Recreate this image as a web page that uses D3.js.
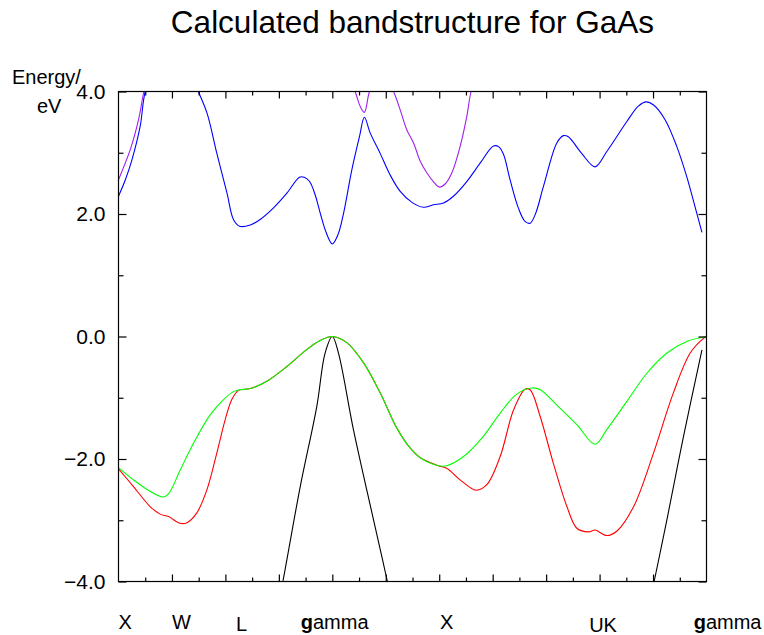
<!DOCTYPE html>
<meta charset="utf-8">
<title>Calculated bandstructure for GaAs</title>
<style>
  body { margin: 0; background: white; }
  svg { font-family: "Liberation Sans", Arial, sans-serif; }
  .band { fill: none; stroke-width: 1.1px; }
</style>
<body>
<div id="chart"></div>
<script src="https://d3js.org/d3.v7.min.js"></script>
<script>
// bands, k in tick units (0..22), energy in eV
const band2 = [[0,-6.9],[2,-6.8],[4,-6.6],[5.2,-5.9],[5.7,-5.0],[6.15,-4.0],[6.8,-2.45],[7.42,-1.14],
  [7.73,-0.27],[8.0,0],[8.23,-0.27],[8.79,-1.52],[9.54,-2.99],[10.06,-4.0],[10.6,-5.1],[12,-6.7],
  [14,-6.6],[17.8,-6.3],[19.0,-5.8],[19.55,-5.0],[20.04,-4.0],[20.52,-2.99],[21.14,-1.63],[21.83,-0.22]];

const band3 = [[0,-2.16],[0.56,-2.45],[1.19,-2.78],[1.56,-2.9],[1.87,-2.94],[2.31,-3.05],[2.56,-3.04],
  [2.93,-2.88],[3.31,-2.5],[3.68,-1.9],[3.99,-1.36],[4.24,-1.03],[4.49,-0.88],[4.93,-0.85],[5.55,-0.73],
  [6.3,-0.49],[7.05,-0.21],[7.55,-0.065],[8.0,0],[8.54,-0.1],[9.17,-0.43],[9.79,-0.92],[10.42,-1.5],
  [10.91,-1.82],[11.29,-1.98],[11.97,-2.11],[12.28,-2.15],[12.78,-2.34],[13.38,-2.51],[13.78,-2.42],
  [14.28,-1.96],[14.78,-1.2],[15.21,-0.86],[15.4,-0.87],[15.78,-1.31],[16.27,-2.07],[16.78,-2.78],
  [17.15,-3.13],[17.59,-3.19],[17.83,-3.16],[18.27,-3.25],[18.64,-3.18],[19.27,-2.78],[20.02,-1.9],
  [20.76,-0.92],[21.39,-0.27],[21.89,-0.03],[22,0]];

const band4 = [[0,-2.14],[0.56,-2.34],[1.19,-2.53],[1.68,-2.62],[1.87,-2.57],[2.31,-2.18],[2.81,-1.74],
  [3.43,-1.28],[3.93,-1.03],[4.3,-0.9],[4.55,-0.87],[4.93,-0.85],[5.55,-0.73],[6.3,-0.49],[7.05,-0.21],
  [7.55,-0.065],[8.0,0],[8.54,-0.1],[9.17,-0.43],[9.79,-0.92],[10.42,-1.5],[10.91,-1.82],[11.29,-1.98],
  [11.97,-2.11],[12.28,-2.11],[12.91,-1.96],[13.65,-1.63],[14.28,-1.25],[14.9,-0.94],[15.47,-0.84],
  [15.78,-0.87],[16.4,-1.12],[17.15,-1.44],[17.83,-1.76],[18.27,-1.52],[19.02,-1.06],[19.77,-0.6],
  [20.52,-0.27],[21.26,-0.08],[22,0]];

const band5 = [[0,2.29],[0.25,2.55],[0.5,2.88],[0.81,3.43],[1.0,4.0],[1.5,4.6],[2.0,4.85],[2.5,4.6],
  [2.99,4.0],[3.31,3.65],[3.68,2.99],[4.06,2.34],[4.3,1.91],[4.53,1.8],[4.93,1.82],[5.3,1.91],[5.8,2.1],
  [6.3,2.34],[6.77,2.6],[6.95,2.6],[7.15,2.53],[7.36,2.31],[7.55,2.01],[7.76,1.71],[8.0,1.51],[8.21,1.66],
  [8.42,2.01],[8.73,2.72],[9.02,3.27],[9.2,3.58],[9.42,3.32],[9.79,2.99],[10.16,2.64],[10.54,2.37],
  [10.98,2.19],[11.41,2.11],[11.78,2.15],[12.16,2.18],[12.53,2.29],[13.03,2.53],[13.53,2.83],[14.03,3.11],
  [14.22,3.1],[14.4,2.98],[14.65,2.56],[14.96,2.1],[15.21,1.88],[15.4,1.85],[15.59,1.99],[15.9,2.45],
  [16.4,3.16],[16.65,3.28],[16.83,3.26],[17.33,2.99],[17.83,2.77],[18.27,3.02],[19.02,3.51],[19.45,3.76],
  [19.74,3.83],[20.02,3.78],[20.45,3.54],[20.89,3.1],[21.26,2.61],[21.57,2.12],[21.83,1.7]];

const band6 = [[0,2.56],[0.44,3.05],[0.75,3.54],[0.95,4.0],[1.3,4.6],[2.0,5.2],[4.0,5.6],[6.0,5.5],
  [7.5,5.0],[8.3,4.5],[8.85,4.0],[9.05,3.75],[9.2,3.66],[9.39,4.0],[9.8,4.4],[10.29,4.0],[10.54,3.7],
  [10.79,3.37],[11.04,3.16],[11.29,2.86],[11.54,2.67],[11.78,2.53],[12.0,2.44],[12.22,2.49],[12.47,2.67],
  [12.78,3.1],[13.03,3.59],[13.19,4.0],[13.6,4.6],[15,5.3],[18,5.5],[22,5.6]];

const bands = [band2, band3, band4, band5, band6];
const bandColors = ["#000000", "#ff0000", "#00ff00", "#0000ff", "#a020f0"];

const symLabels = ["X", "W", "L", "gamma", "X", "UK", "gamma"];
const symK = [0, 2, 4.4, 6.82, 12.03, 17.61, 21.52];
const symDrop = [0, 0, 2, 0, 0, 3, 0];

const width = 764, height = 635;
const plot = {left: 118.5, right: 706.5, top: 91.5, bottom: 581.5};

const svg = d3.select("#chart").append("svg")
    .attr("width", width)
    .attr("height", height);

const x = d3.scaleLinear().domain([0, 22]).range([plot.left, plot.right]);
const y = d3.scaleLinear().domain([-4, 4]).range([plot.bottom, plot.top]);

// title
svg.append("text")
    .attr("x", (plot.left + plot.right) / 2)
    .attr("y", 33)
    .attr("text-anchor", "middle")
    .style("font-size", "31.5px")
    .text("Calculated bandstructure for GaAs");

// y label
svg.append("text").attr("x", 12).attr("y", 84).style("font-size", "20px").text("Energy/");
svg.append("text").attr("x", 37).attr("y", 113).style("font-size", "20px").text("eV");

// clip for the bands
svg.append("clipPath").attr("id", "plotclip")
  .append("rect")
    .attr("x", plot.left).attr("y", plot.top)
    .attr("width", plot.right - plot.left).attr("height", plot.bottom - plot.top);

const line = d3.line()
    .x(d => x(d[0]))
    .y(d => y(d[1]))
    .curve(d3.curveCatmullRom.alpha(0.5));

svg.append("g").attr("clip-path", "url(#plotclip)")
  .selectAll("path")
  .data(bands)
  .enter().append("path")
    .attr("class", "band")
    .attr("stroke", (d, i) => bandColors[i])
    .attr("d", line);

// axes, ticks pointing inward
const minorK = d3.range(1, 22, 2), majorK = d3.range(2, 22, 2);
const minorE = [-3, -1, 1, 3], majorE = [-4, -2, 0, 2, 4];

function styleAxis(g) {
  g.select(".domain").remove();
  g.selectAll("line").attr("stroke", "black").attr("stroke-width", 1.2);
  g.selectAll("text").attr("fill", "black").style("font-size", "21px")
    .attr("font-family", "'Liberation Sans', Arial, sans-serif");
}

svg.append("g").attr("transform", "translate(0," + plot.bottom + ")")
  .call(d3.axisBottom(x).tickValues(minorK).tickSize(-4).tickFormat("")).call(styleAxis);
svg.append("g").attr("transform", "translate(0," + plot.bottom + ")")
  .call(d3.axisBottom(x).tickValues(majorK).tickSize(-7).tickFormat("")).call(styleAxis);
svg.append("g").attr("transform", "translate(0," + plot.top + ")")
  .call(d3.axisTop(x).tickValues(minorK).tickSize(-4).tickFormat("")).call(styleAxis);
svg.append("g").attr("transform", "translate(0," + plot.top + ")")
  .call(d3.axisTop(x).tickValues(majorK).tickSize(-7).tickFormat("")).call(styleAxis);

svg.append("g").attr("transform", "translate(" + plot.left + ",0)")
  .call(d3.axisLeft(y).tickValues(minorE).tickSize(-5).tickFormat("")).call(styleAxis);
svg.append("g").attr("transform", "translate(" + plot.left + ",0)")
  .call(d3.axisLeft(y).tickValues(majorE).tickSize(-8).tickPadding(13).tickFormat(d3.format(".1f")))
  .call(styleAxis);
svg.append("g").attr("transform", "translate(" + plot.right + ",0)")
  .call(d3.axisRight(y).tickValues(minorE).tickSize(-5).tickFormat("")).call(styleAxis);
svg.append("g").attr("transform", "translate(" + plot.right + ",0)")
  .call(d3.axisRight(y).tickValues(majorE).tickSize(-8).tickFormat("")).call(styleAxis);

// frame
svg.append("rect")
    .attr("x", plot.left).attr("y", plot.top)
    .attr("width", plot.right - plot.left).attr("height", plot.bottom - plot.top)
    .attr("fill", "none").attr("stroke", "black").attr("stroke-width", 1.2);

// symmetry point labels
const sym = svg.append("g").style("font-size", "20px");
symLabels.forEach(function(lab, i) {
  const t = sym.append("text")
      .attr("x", x(symK[i]))
      .attr("y", 629 + symDrop[i]);
  if (lab === "gamma") {
    t.append("tspan").attr("font-weight", "bold").text("g");
    t.append("tspan").text("amma");
  } else {
    t.text(lab);
  }
});
</script>
</body>
